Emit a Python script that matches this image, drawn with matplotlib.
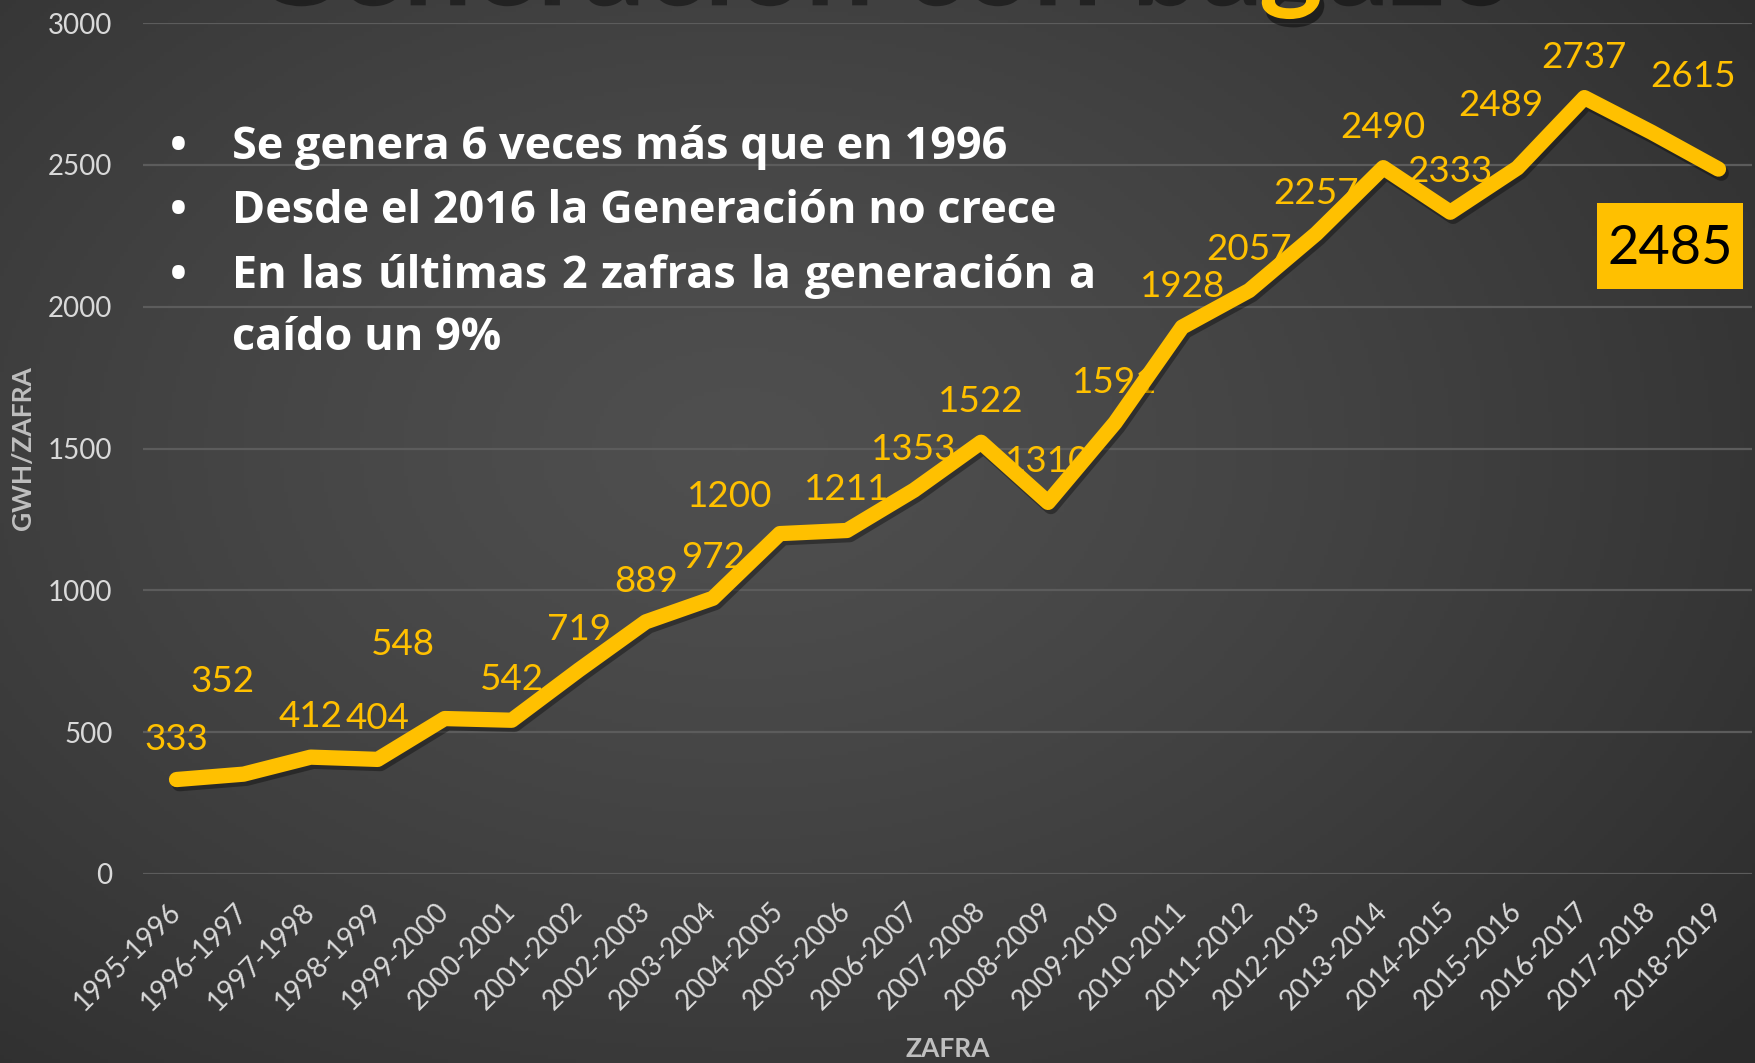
import numpy as np
import matplotlib
matplotlib.use("Agg")
import matplotlib.pyplot as plt
import matplotlib.patheffects as pe
from matplotlib.patches import Rectangle
from matplotlib.transforms import ScaledTranslation, IdentityTransform

# ---- data ----
zafras = ["1995-1996", "1996-1997", "1997-1998", "1998-1999", "1999-2000",
          "2000-2001", "2001-2002", "2002-2003", "2003-2004", "2004-2005",
          "2005-2006", "2006-2007", "2007-2008", "2008-2009", "2009-2010",
          "2010-2011", "2011-2012", "2012-2013", "2013-2014", "2014-2015",
          "2015-2016", "2016-2017", "2017-2018", "2018-2019"]
gwh = [333, 352, 412, 404, 548, 542, 719, 889, 972, 1200, 1211, 1353, 1522,
       1310, 1591, 1928, 2057, 2257, 2490, 2333, 2489, 2737, 2615, 2485]
yticks = [0, 500, 1000, 1500, 2000, 2500, 3000]
bullets = ["Se genera 6 veces más que en 1996",
           "Desde el 2016 la Generación no crece",
           "En las últimas 2 zafras la generación a",
           "caído un 9%"]
title = "Generación con bagazo"
ylabel = "GWH/ZAFRA"
xlabel = "ZAFRA"

YELLOW = "#FFC000"
W, H = 1756, 1063
DPI = 100
FONT = "Lato"
plt.rcParams['font.family'] = [FONT, 'DejaVu Sans']

fig = plt.figure(figsize=(W / DPI, H / DPI), dpi=DPI)

# ---- radial gradient background ----
bg = fig.add_axes([0, 0, 1, 1], zorder=-10)
yy, xx = np.mgrid[0:H:4, 0:W:4]
cx, cy = 0.42 * W, 0.42 * H
r = np.sqrt(((xx - cx) / (0.75 * W)) ** 2 + ((yy - cy) / (0.85 * H)) ** 2)
r = np.clip(r, 0, 1)
val = 0.31 - 0.14 * r ** 1.3
img = np.dstack([val, val, val])
bg.imshow(img, extent=[0, 1, 0, 1], aspect='auto', origin='upper')
bg.set_axis_off()

# ---- main axes ----
ax = fig.add_axes([143 / W, 1 - 874 / H, (1752 - 143) / W, (874 - 23) / H])
ax.patch.set_alpha(0)
x = np.arange(len(zafras))
ax.set_xlim(-0.5, len(zafras) - 0.5)
ax.set_ylim(0, 3000)
ax.set_yticks(yticks)
ax.set_xticks(x)
ax.set_xticklabels(zafras, rotation=45, ha='right', va='center',
                   rotation_mode='anchor', fontsize=20, color='#d9d9d9')
for lab in ax.get_xticklabels():
    lab.set_transform(lab.get_transform() + ScaledTranslation(14 / DPI, 0, fig.dpi_scale_trans))
ax.tick_params(axis='x', length=0, pad=24)
ax.tick_params(axis='y', length=0, pad=22, labelsize=20, labelcolor='#d9d9d9')
for s in ax.spines.values():
    s.set_visible(False)
ax.grid(axis='y', color='#5c5c5c', lw=1.6)
ax.set_axisbelow(True)

shadow = [pe.SimpleLineShadow(offset=(2, -3), shadow_color='black', alpha=0.35), pe.Normal()]
ax.plot(x, gwh, color=YELLOW, lw=11, solid_capstyle='round',
        solid_joinstyle='round', zorder=5, path_effects=shadow)

# data labels (offsets in pixels from each point, manually placed in original)
special = {1: (-21, 82), 4: (-42, 64), 9: (-50, 27), 20: (-17, 52), 22: (42, 45)}
for i, v in enumerate(gwh[:-1]):
    dx, dy = special.get(i, (0, 30))
    ax.annotate(str(v), (x[i], v), xytext=(dx, dy), textcoords='offset pixels',
                ha='center', va='baseline', fontsize=26.5, color=YELLOW, zorder=3)

# highlighted last value: yellow box + black text
px, py = ax.transData.transform((x[-1], gwh[-1]))
ax.add_patch(Rectangle((px - 121, py - 120), 146, 86, transform=IdentityTransform(),
                       facecolor=YELLOW, edgecolor='none', zorder=6, clip_on=False))
ax.annotate(str(gwh[-1]), (x[-1], gwh[-1]), xytext=(-48, -79), textcoords='offset pixels',
            ha='center', va='center', fontsize=39, color='black', zorder=7)

# axis titles
fig.text(23 / W, 1 - 448 / H, ylabel, rotation=90, ha='center', va='center',
         fontsize=19, fontweight='bold', color='#bfbfbf')
fig.text(948 / W, 1 - 1049 / H, xlabel, ha='center', va='center',
         fontsize=19, fontweight='bold', color='#bfbfbf')

# title (mostly cut off at top)
fig.text(245 / W, 1 + 3 / H, title, ha='left', va='baseline', fontsize=88,
         fontweight='bold', color=YELLOW,
         path_effects=[pe.SimplePatchShadow(offset=(3, -6), shadow_rgbFace='black', alpha=0.45),
                       pe.Normal()])

# bullet text
BFONT = ["Open Sans", "DejaVu Sans"]
baselines = [159, 223, 288, 350]
tx0 = 232
fs = 32.4
for k, line in enumerate(bullets):
    yb = 1 - baselines[k] / H
    if k < 3:
        fig.text(178 / W, yb, "•", ha='center', va='baseline', fontsize=fs,
                 fontweight='bold', color='white', family=BFONT)
    if k == 2:
        # justified line: distribute words across to the right edge
        words = line.split(" ")
        fig.canvas.draw()
        rend = fig.canvas.get_renderer()
        objs = []
        for w_ in words:
            t = fig.text(0, yb, w_, ha='left', va='baseline', fontsize=fs,
                         fontweight='bold', color='white', family=BFONT)
            objs.append(t)
        widths = [o.get_window_extent(rend).width for o in objs]
        right = 1095
        gap = (right - tx0 - sum(widths)) / (len(words) - 1)
        xpos = tx0
        for o, wd in zip(objs, widths):
            o.set_x(xpos / W)
            xpos += wd + gap
    else:
        fig.text(tx0 / W, yb, line, ha='left', va='baseline', fontsize=fs,
                 fontweight='bold', color='white', family=BFONT)

fig.savefig("out.png", dpi=DPI)
